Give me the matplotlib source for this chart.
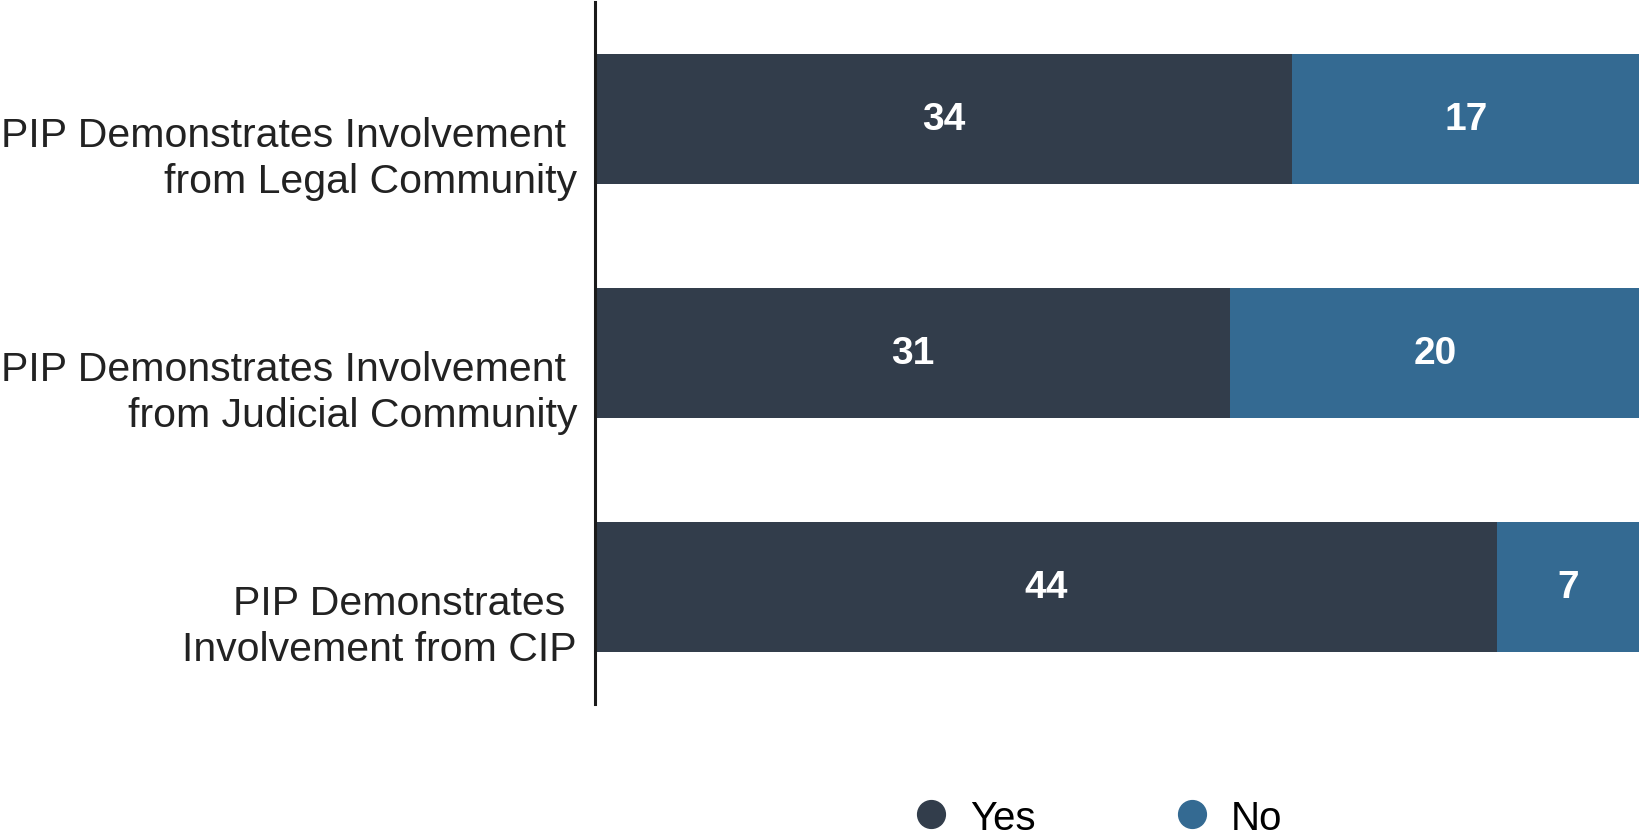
import matplotlib

matplotlib.use("Agg")
import matplotlib.pyplot as plt
from matplotlib.lines import Line2D
from matplotlib.transforms import ScaledTranslation

plt.rcParams["font.family"] = ["Liberation Sans", "DejaVu Sans"]

categories = [
    "PIP Demonstrates Involvement \nfrom Legal Community",
    "PIP Demonstrates Involvement \nfrom Judicial Community",
    "PIP Demonstrates \nInvolvement from CIP",
]
yes_vals = [34, 31, 44]
no_vals = [17, 20, 7]
series_names = ["Yes", "No"]
series_colors = ["#323d4b", "#346a92"]

fig = plt.figure(figsize=(16.4, 8.37), dpi=100)
ax = fig.add_axes([0.3628, 0.1577, 0.6372, 0.8387])

ypos = list(range(len(categories)))
h = 0.555
ax.barh(ypos, yes_vals, height=h, color=series_colors[0], edgecolor="none")
ax.barh(ypos, no_vals, left=yes_vals, height=h, color=series_colors[1], edgecolor="none")

for y, a, b in zip(ypos, yes_vals, no_vals):
    ax.text(a / 2, y, str(a), ha="center", va="center", color="white",
            fontsize=28, fontweight="bold")
    ax.text(a + b / 2, y, str(b), ha="center", va="center", color="white",
            fontsize=28, fontweight="bold")

ax.set_xlim(0, 51)
ax.set_ylim(2.5, -0.5)
ax.set_yticks(ypos)
ax.set_yticklabels(categories, fontsize=29.5, color="#222222", linespacing=1.25)
ax.tick_params(axis="y", length=0, pad=13)
# labels sit a bit below the bar centres in the original
shift = ScaledTranslation(0, -0.31, fig.dpi_scale_trans)
for lbl in ax.get_yticklabels():
    lbl.set_transform(lbl.get_transform() + shift)
ax.set_xticks([])
for side in ["top", "right", "bottom"]:
    ax.spines[side].set_visible(False)
ax.spines["left"].set_linewidth(2.2)
ax.spines["left"].set_color("#1a1a1a")

handles = [
    Line2D([], [], marker="o", linestyle="none", markersize=20,
           markerfacecolor=c, markeredgecolor=c)
    for c in series_colors
]
fig.legend(handles, series_names, loc="center", bbox_to_anchor=(0.67, 0.022),
           ncol=2, frameon=False, fontsize=29, handlelength=0.8,
           handletextpad=0.55, columnspacing=3.5)

fig.savefig("out.png", dpi=100, facecolor="white")
